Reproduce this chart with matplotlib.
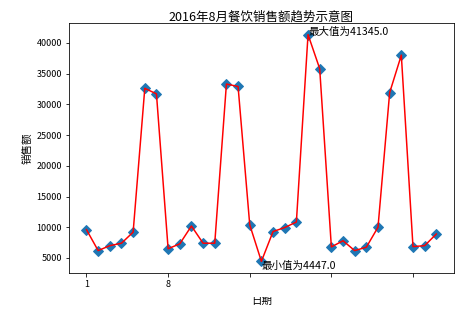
import matplotlib
matplotlib.use("Agg")
import matplotlib.pyplot as plt
from matplotlib.patches import Rectangle

plt.rcParams['font.family'] = ['Noto Sans CJK SC', 'DejaVu Sans']
plt.rcParams['axes.unicode_minus'] = False

days = list(range(1, 32))
sales = [9600, 6200, 7000, 7400, 9200, 32600, 31700, 6500, 7300, 10200,
         7400, 7400, 33300, 32900, 10400, 4447, 9300, 9950, 10850, 41345,
         35800, 6800, 7800, 6200, 6750, 10000, 31900, 38000, 6850, 7000, 8900]
xticks = [1, 8, 15, 22, 29]
title = '2016年8月餐饮销售额趋势示意图'
xlabel = '日期'
ylabel = '销售额'

fig = plt.figure(figsize=(464 / 72, 310 / 72), dpi=72)
ax = fig.add_axes([0.1487, 0.1203, 0.8293, 0.8047])

ax.plot(days, sales, 'D', color='#1f77b4', markersize=7.5)
ax.plot(days, sales, '-', color='red', linewidth=1.5)
ax.set_xticks(xticks)
ax.tick_params(labelsize=9)
ax.set_title(title, fontsize=12.5, pad=3)
ax.set_xlabel(xlabel, fontsize=10.5, labelpad=7)
ax.set_ylabel(ylabel, fontsize=10.5, labelpad=4)

imax = sales.index(max(sales))
imin = sales.index(min(sales))
ax.text(days[imax], sales[imax], '最大值为%.1f' % sales[imax], fontsize=10.5)
ax.text(days[imin], sales[imin], '最小值为%.1f' % sales[imin], fontsize=10.5, va='top')

fig.patches.append(Rectangle((208 / 464, (310 - 297) / 310), (464 - 208) / 464, (297 - 279) / 310,
                             transform=fig.transFigure, facecolor='white',
                             edgecolor='none', alpha=1.0, zorder=10))

fig.savefig('out.png', dpi=72)
